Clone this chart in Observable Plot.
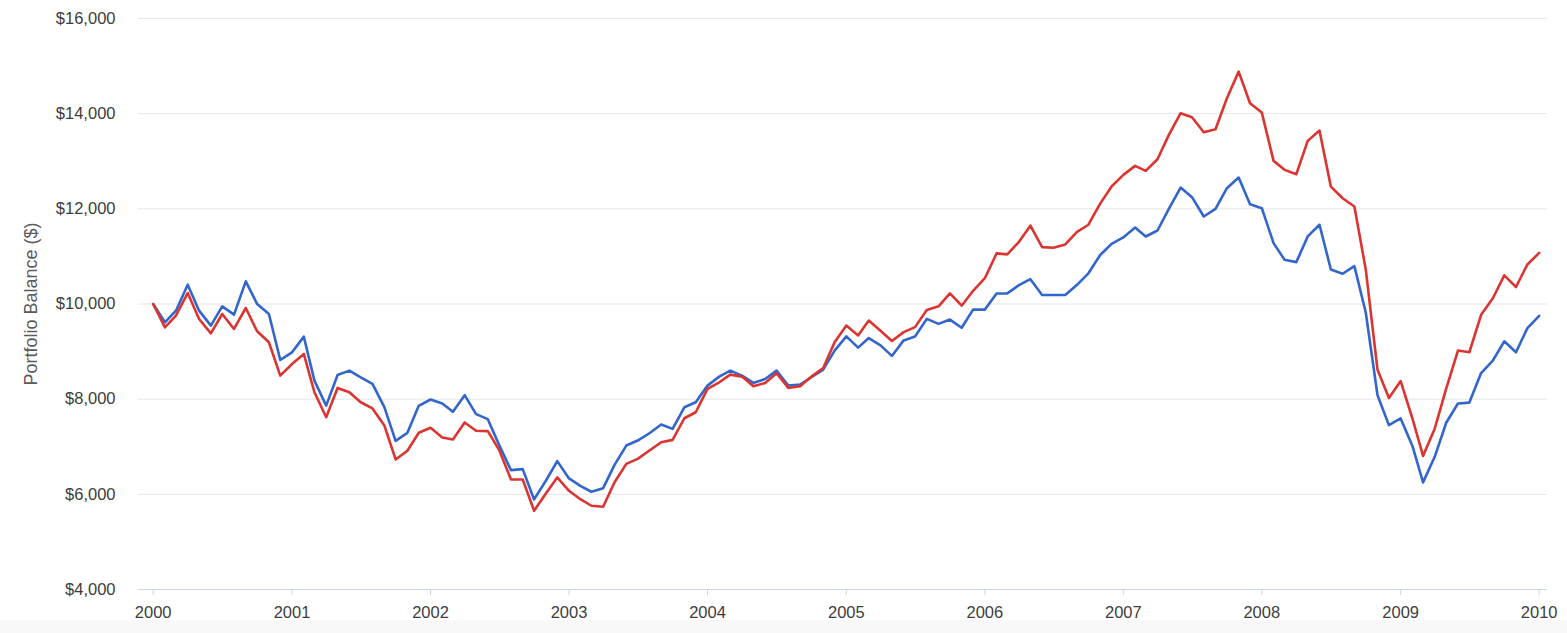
<!DOCTYPE html>
<html>
<head>
<meta charset="utf-8">
<script src="https://cdn.jsdelivr.net/npm/d3@7"></script>
<script src="https://cdn.jsdelivr.net/npm/@observablehq/plot@0.6"></script>
<style>
  html, body { margin: 0; padding: 0; background: #f8f8f8; }
  #chart svg { display: block; background: linear-gradient(to bottom, #ffffff 0px, #ffffff 620px, #f8f8f8 620px, #f8f8f8 633px) !important; }
</style>
</head>
<body>
<div id="chart"></div>
<script>
// Monthly portfolio balances, Jan 2000 .. Jan 2010
const startYear = 2000;
const blueSeries = [
  10000, 9615, 9860, 10406, 9860, 9545, 9951, 9776, 10476, 10000, 9790, 8824,
  8985, 9314, 8390, 7865, 8509, 8600, 8460, 8320, 7839, 7125, 7293, 7860,
  7993, 7909, 7734, 8084, 7685, 7580, 7034, 6509, 6530, 5893, 6285, 6698,
  6334, 6173, 6054, 6130, 6620, 7025, 7130, 7284, 7466, 7375, 7830, 7935,
  8285, 8474, 8600, 8495, 8341, 8425, 8600, 8285, 8306, 8460, 8621, 9020,
  9320, 9083, 9284, 9131, 8909, 9235, 9319, 9687, 9583, 9673, 9500, 9882,
  9882, 10222, 10222, 10396, 10521, 10188, 10188, 10188, 10403, 10645, 11030, 11265,
  11398, 11608, 11419, 11545, 12000, 12448, 12245, 11839, 12000, 12434, 12658, 12098,
  12014, 11279, 10929, 10880, 11420, 11665, 10726, 10636, 10796, 9822, 8082, 7455,
  7594, 7017, 6251, 6794, 7504, 7908, 7928, 8548, 8812, 9216, 8986, 9494,
  9752
];
const redSeries = [
  10000, 9510, 9755, 10231, 9685, 9384, 9790, 9475, 9916, 9426, 9195, 8495,
  8740, 8950, 8145, 7620, 8236, 8145, 7935, 7805, 7454, 6733, 6915, 7293,
  7398, 7195, 7153, 7510, 7335, 7328, 6929, 6313, 6313, 5655, 6019, 6355,
  6075, 5893, 5760, 5740, 6255, 6640, 6745, 6920, 7095, 7144, 7599, 7725,
  8215, 8355, 8516, 8474, 8271, 8341, 8544, 8236, 8271, 8474, 8656, 9195,
  9546, 9340, 9652, 9437, 9222, 9409, 9514, 9875, 9951, 10222, 9965, 10278,
  10542, 11063, 11042, 11307, 11647, 11195, 11181, 11251, 11515, 11666, 12109, 12469,
  12714, 12903, 12798, 13043, 13554, 14009, 13925, 13610, 13673, 14324, 14884, 14219,
  14023, 13008, 12819, 12728, 13428, 13645, 12466, 12223, 12049, 10726, 8617, 8026,
  8381, 7594, 6808, 7385, 8221, 9021, 8986, 9773, 10121, 10601, 10357, 10831,
  11074
];
const yTicks = [4000, 6000, 8000, 10000, 12000, 14000, 16000];
const xTickYears = [2000, 2001, 2002, 2003, 2004, 2005, 2006, 2007, 2008, 2009, 2010];
const yTitle = "Portfolio Balance ($)";

const toRows = (vals) => vals.map((v, i) => ({date: new Date(Date.UTC(startYear, i, 1)), value: v}));
const blueRows = toRows(blueSeries);
const redRows = toRows(redSeries);
const xTicks = xTickYears.map(y => new Date(Date.UTC(y, 0, 1)));
const DAY = 864e5;

const chart = Plot.plot({
  width: 1567,
  height: 633,
  marginLeft: 138,
  marginRight: 20,
  marginTop: 18,
  marginBottom: 44,
  style: {fontFamily: "Helvetica, Arial, 'Liberation Sans', sans-serif", fontSize: "16.5px"},
  x: {type: "utc", domain: [new Date(Date.UTC(2000, 0, 1) - 38.7 * DAY), new Date(Date.UTC(2010, 0, 1) + 22 * DAY)]},
  y: {domain: [4000, 16000]},
  marks: [
    Plot.gridY(yTicks, {stroke: "#e6e6e6", strokeOpacity: 1, strokeWidth: 1}),
    Plot.axisY(yTicks, {tickSize: 0, tickPadding: 23, tickFormat: d3.format("$,"), fill: "#3d3d3d", label: null}),
    Plot.ruleY([4000], {stroke: "#ccd6eb", strokeWidth: 1}),
    Plot.axisX(xTicks, {tickSize: 6, tickPadding: 11, stroke: "#ccd6eb", fill: "#3d3d3d", tickFormat: d3.utcFormat("%Y"), label: null}),
    Plot.line(blueRows, {x: "date", y: "value", stroke: "#3366cc", strokeWidth: 2.6}),
    Plot.line(redRows, {x: "date", y: "value", stroke: "#dc3430", strokeWidth: 2.6}),
    Plot.text([yTitle], {frameAnchor: "left", dx: -107, rotate: -90, fontSize: 18, fill: "#5a5a5a", textAnchor: "middle"})
  ]
});
document.getElementById("chart").appendChild(chart);
</script>
</body>
</html>
